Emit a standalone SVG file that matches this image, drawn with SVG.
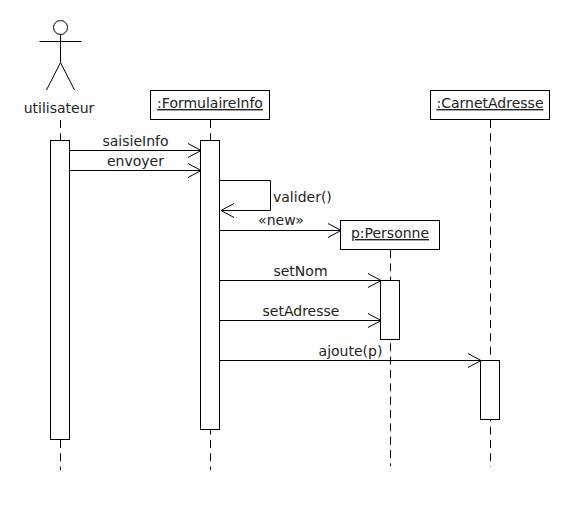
<svg xmlns="http://www.w3.org/2000/svg" width="570" height="510" viewBox="0 0 570 510">
<defs>
<marker id="open" viewBox="0 0 14 14" markerUnits="userSpaceOnUse" markerWidth="14" markerHeight="14" refX="13" refY="7" orient="auto" overflow="visible"><path d="M0 0L13 7L0 14" fill="none" stroke="#000" stroke-width="1"/></marker>
</defs>
<style>
text{font-family:"DejaVu Sans",sans-serif;font-size:14px;fill:#222;text-anchor:middle}
.box{fill:#fff;stroke:#000;stroke-width:1}
.life{fill:none;stroke:#000;stroke-width:1;stroke-dasharray:8 5.33}
.msg{fill:none;stroke:#000;stroke-width:1;marker-end:url(#open)}
.u{text-decoration:underline}
.l{text-anchor:start}
</style>
<rect width="570" height="510" fill="#fff"/>
<g id="lifelines">
<path class="life" d="M60.5 120V470"/>
<path class="life" d="M210.5 120V470"/>
<path class="life" d="M390.5 250V466"/>
<path class="life" d="M490.5 120V467"/>
</g>
<g id="actor-utilisateur">
<circle cx="60.5" cy="27.5" r="7" fill="#fff" stroke="#000"/>
<path d="M60.5 34.5V62.5M39.5 41.5H81.5M46.5 90L60.5 62.5L74.5 90" fill="none" stroke="#000"/>
<text x="59" y="113">utilisateur</text>
</g>
<g id="activation-utilisateur"><rect class="box" x="50.5" y="140.5" width="19" height="299"/></g>
<g id="node-formulaire">
<rect class="box" x="150.5" y="90.5" width="119" height="29"/>
<text class="u" x="210" y="108">:FormulaireInfo</text>
</g>
<g id="activation-formulaire"><rect class="box" x="200.5" y="140.5" width="19" height="289"/></g>
<g id="node-carnet">
<rect class="box" x="430.5" y="90.5" width="119" height="29"/>
<text class="u" x="490" y="108">:CarnetAdresse</text>
</g>
<g id="node-personne">
<rect class="box" x="340.5" y="220.5" width="99" height="29"/>
<text class="u" x="390" y="238">p:Personne</text>
</g>
<g id="activation-personne"><rect class="box" x="380.5" y="280.5" width="19" height="59"/></g>
<g id="activation-carnet"><rect class="box" x="480.5" y="360.5" width="19" height="59"/></g>
<g id="connectors">
<path class="msg" d="M70 150.5H201"/>
<path class="msg" d="M70 170.5H201"/>
<path class="msg" d="M220 180.5H270.5V210.5H221"/>
<path class="msg" d="M220 230.5H341"/>
<path class="msg" d="M220 280.5H381"/>
<path class="msg" d="M220 320.5H381"/>
<path class="msg" d="M220 360.5H481"/>
</g>
<g id="labels">
<text x="135.500" y="146">saisieInfo</text>
<text x="135.500" y="166">envoyer</text>
<text class="l" x="273" y="202">valider()</text>
<text x="281" y="225">«new»</text>
<text x="300.500" y="276">setNom</text>
<text x="301" y="316">setAdresse</text>
<text x="350.500" y="356">ajoute(p)</text>
</g>
</svg>
